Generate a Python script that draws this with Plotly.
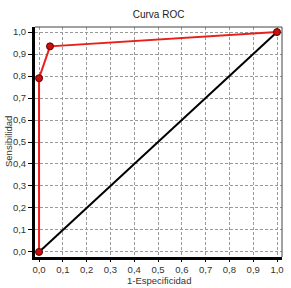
import plotly.graph_objects as go

roc_x = [0.0, 0.0, 0.046, 1.0]
roc_y = [0.0, 0.79, 0.935, 1.0]
diag_x = [0.0, 1.0]
diag_y = [0.0, 1.0]
tick_vals = [0.0, 0.1, 0.2, 0.3, 0.4, 0.5, 0.6, 0.7, 0.8, 0.9, 1.0]
tick_text = ["0,0", "0,1", "0,2", "0,3", "0,4", "0,5", "0,6", "0,7", "0,8", "0,9", "1,0"]

fig = go.Figure()
fig.add_trace(go.Scatter(x=diag_x, y=diag_y, mode="lines",
                         line=dict(color="black", width=2), showlegend=False))
fig.add_trace(go.Scatter(x=roc_x, y=roc_y, mode="lines+markers",
                         line=dict(color="#e8201a", width=2),
                         marker=dict(color="#c8100c", size=7, line=dict(color="#5a0000", width=1)),
                         showlegend=False))

font = dict(family="Liberation Sans, Arial, sans-serif", size=9.5, color="#333333")
axis_common = dict(
    tickvals=tick_vals, ticktext=tick_text, showgrid=True,
    gridcolor="#9a9a9a", griddash="3px,2px", gridwidth=1,
    zeroline=False, showline=True, linecolor="black", linewidth=3,
    ticks="outside", tickcolor="black", tickfont=font,
    automargin=False, ticklabelstandoff=0,
)
fig.update_layout(
    width=291, height=288,
    margin=dict(l=35, r=9, t=27, b=31),
    paper_bgcolor="white", plot_bgcolor="white",
    title=dict(text="Curva ROC", x=0.545, xanchor="center", y=0.948, yanchor="middle",
               font=dict(family="Liberation Sans, Arial, sans-serif", size=10, color="#222222")),
    xaxis=dict(range=[-0.017, 1.021], ticklen=2, **axis_common),
    yaxis=dict(range=[-0.023, 1.023], ticklen=4, **axis_common),
    annotations=[
        dict(text="1-Especificidad", xref="paper", yref="paper", x=0.5, y=0,
             xanchor="center", yanchor="middle", yshift=-23.5, showarrow=False, font=font),
        dict(text="Sensibilidad", xref="paper", yref="paper", x=0, y=0.5,
             xanchor="center", yanchor="middle", xshift=-27, textangle=-90,
             showarrow=False, font=font),
    ],
    shapes=[
        dict(type="line", xref="paper", yref="paper", x0=0, x1=1, y0=1, y1=1,
             line=dict(color="#444444", width=1)),
        dict(type="line", xref="paper", yref="paper", x0=1, x1=1, y0=0, y1=1,
             line=dict(color="#444444", width=1)),
    ],
)
fig.write_html("out.html")
